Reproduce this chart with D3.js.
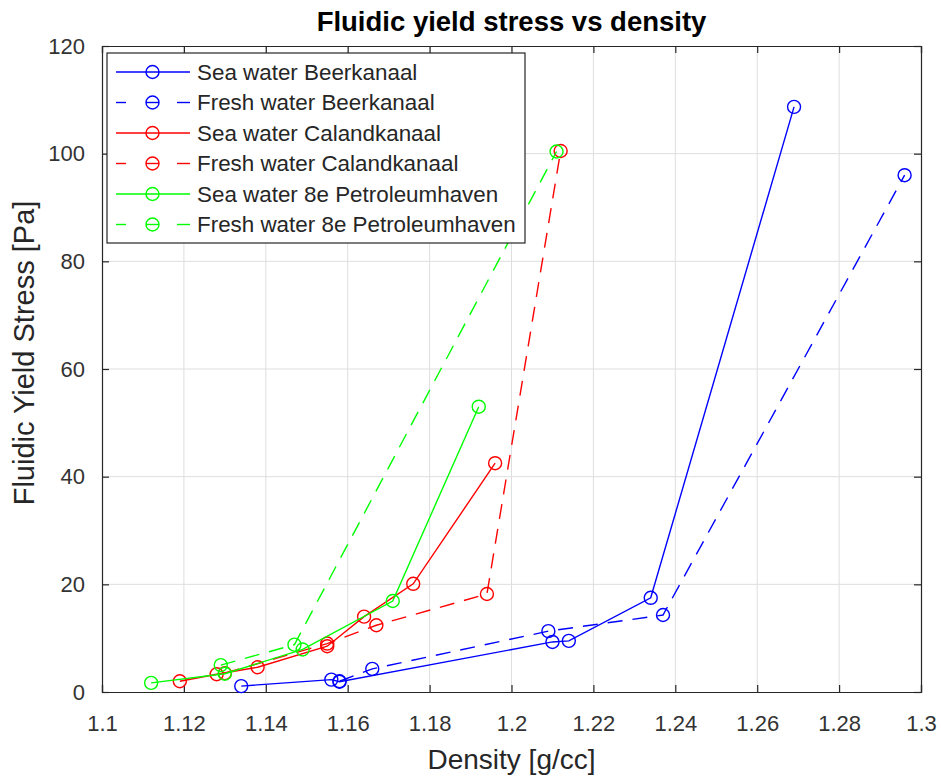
<!doctype html>
<html lang="en">
<head>
  <meta charset="UTF-8">
  <title>Fluidic yield stress vs density</title>
  <script src="https://cdnjs.cloudflare.com/ajax/libs/d3/7.8.5/d3.min.js"></script>
  <style>
  body { margin: 0; background: #fff; }
  svg { font-family: "Liberation Sans", Arial, sans-serif; }
  </style>
</head>
<body>
<script>

// density [g/cc] and fluidic yield stress [Pa]
var seaBeerX   = [1.134, 1.156, 1.158, 1.210, 1.214, 1.234, 1.269];
var seaBeerY   = [1.1, 2.3, 1.9, 9.3, 9.5, 17.5, 108.7];
var freshBeerX = [1.158, 1.166, 1.209, 1.237, 1.296];
var freshBeerY = [2.0, 4.3, 11.3, 14.3, 96.0];
var seaCalX    = [1.119, 1.128, 1.138, 1.155, 1.164, 1.176, 1.196];
var seaCalY    = [2.0, 3.3, 4.6, 8.5, 14.0, 20.1, 42.5];
var freshCalX  = [1.130, 1.155, 1.167, 1.194, 1.212];
var freshCalY  = [3.5, 9.0, 12.4, 18.2, 100.5];
var seaPetX    = [1.112, 1.130, 1.149, 1.171, 1.192];
var seaPetY    = [1.7, 3.4, 7.9, 16.9, 53.0];
var freshPetX  = [1.129, 1.147, 1.211];
var freshPetY  = [5.0, 8.8, 100.4];

var seriesNames = ["Sea water Beerkanaal", "Fresh water Beerkanaal",
                   "Sea water Calandkanaal", "Fresh water Calandkanaal",
                   "Sea water 8e Petroleumhaven", "Fresh water 8e Petroleumhaven"];
var xTicks = [1.1, 1.12, 1.14, 1.16, 1.18, 1.2, 1.22, 1.24, 1.26, 1.28, 1.3];
var yTicks = [0, 20, 40, 60, 80, 100, 120];

(function() {

var series = [
  {name: seriesNames[0], xs: seaBeerX,   ys: seaBeerY,   color: "#0000ff", dash: null},
  {name: seriesNames[1], xs: freshBeerX, ys: freshBeerY, color: "#0000ff", dash: "15,10"},
  {name: seriesNames[2], xs: seaCalX,    ys: seaCalY,    color: "#ff0000", dash: null},
  {name: seriesNames[3], xs: freshCalX,  ys: freshCalY,  color: "#ff0000", dash: "15,10"},
  {name: seriesNames[4], xs: seaPetX,    ys: seaPetY,    color: "#00ff00", dash: null},
  {name: seriesNames[5], xs: freshPetX,  ys: freshPetY,  color: "#00ff00", dash: "15,10"}
];

var w = 941, h = 777;
var pLeft = 102, pRight = 921, pTop = 46, pBottom = 692;
var ink = "#262626";

var x = d3.scaleLinear().domain([1.1, 1.3]).range([pLeft, pRight]);
var y = d3.scaleLinear().domain([0, 120]).range([pBottom, pTop]);

var svg = d3.select("body").append("svg")
  .attr("width", w)
  .attr("height", h);

// grid
svg.append("g").selectAll("line")
  .data(xTicks.slice(1, -1))
  .enter().append("line")
  .attr("x1", function(d) { return x(d); })
  .attr("x2", function(d) { return x(d); })
  .attr("y1", pTop).attr("y2", pBottom)
  .attr("stroke", "#dedede").attr("stroke-width", 1);

svg.append("g").selectAll("line")
  .data(yTicks.slice(1, -1))
  .enter().append("line")
  .attr("y1", function(d) { return y(d); })
  .attr("y2", function(d) { return y(d); })
  .attr("x1", pLeft).attr("x2", pRight)
  .attr("stroke", "#dedede").attr("stroke-width", 1);

// axes, ticks pointing inward on all four sides
var bx = svg.append("g").attr("transform", "translate(0," + pBottom + ")")
  .call(d3.axisBottom(x).tickValues(xTicks).tickSize(-7).tickPadding(23)
    .tickFormat(function(d) { return String(+d.toFixed(2)); }));
var tx = svg.append("g").attr("transform", "translate(0," + pTop + ")")
  .call(d3.axisTop(x).tickValues(xTicks).tickSize(-7).tickFormat(""));
var ly = svg.append("g").attr("transform", "translate(" + pLeft + ",0)")
  .call(d3.axisLeft(y).tickValues(yTicks).tickSize(-7).tickPadding(17));
var ry = svg.append("g").attr("transform", "translate(" + pRight + ",0)")
  .call(d3.axisRight(y).tickValues(yTicks).tickSize(-7).tickFormat(""));

[bx, tx, ly, ry].forEach(function(g) {
  g.select(".domain").attr("stroke", ink).attr("stroke-width", 1.2);
  g.selectAll(".tick line").attr("stroke", ink).attr("stroke-width", 1.2);
  g.selectAll(".tick text").attr("fill", "#333")
    .attr("font-size", "22px").attr("font-family", "Liberation Sans, Arial, sans-serif");
});

// data
var line = d3.line()
  .x(function(d) { return x(d[0]); })
  .y(function(d) { return y(d[1]); });

series.forEach(function(s) {
  var pts = s.xs.map(function(v, i) { return [v, s.ys[i]]; });
  var g = svg.append("g");
  g.append("path")
    .attr("d", line(pts))
    .attr("fill", "none")
    .attr("stroke", s.color)
    .attr("stroke-width", 1.4)
    .attr("stroke-dasharray", s.dash);
  g.selectAll("circle")
    .data(pts)
    .enter().append("circle")
    .attr("cx", function(d) { return x(d[0]); })
    .attr("cy", function(d) { return y(d[1]); })
    .attr("r", 6.5)
    .attr("fill", "none")
    .attr("stroke", s.color)
    .attr("stroke-width", 1.4);
});

// legend
var lg = svg.append("g").attr("transform", "translate(107,53)");
lg.append("rect")
  .attr("width", 418).attr("height", 190)
  .attr("fill", "#fff").attr("stroke", ink).attr("stroke-width", 1.2);

var rows = lg.selectAll("g.row")
  .data(series)
  .enter().append("g")
  .attr("class", "row")
  .attr("transform", function(d, i) { return "translate(0," + (19 + i * 30.5) + ")"; });

// solid samples run straight through, dashed ones get three short pieces
rows.filter(function(d) { return !d.dash; }).append("line")
  .attr("x1", 9).attr("x2", 83)
  .attr("stroke", function(d) { return d.color; })
  .attr("stroke-width", 1.4);
[[9, 19], [39, 52], [70, 83]].forEach(function(seg) {
  rows.filter(function(d) { return d.dash; }).append("line")
    .attr("x1", seg[0]).attr("x2", seg[1])
    .attr("stroke", function(d) { return d.color; })
    .attr("stroke-width", 1.4);
});
rows.append("circle")
  .attr("cx", 45.5).attr("r", 6.5)
  .attr("fill", "none")
  .attr("stroke", function(d) { return d.color; })
  .attr("stroke-width", 1.4);
rows.append("text")
  .attr("x", 90).attr("dy", "0.35em")
  .attr("font-size", "22.4px")
  .attr("fill", ink)
  .text(function(d) { return d.name; });

// titles
svg.append("text")
  .attr("x", (pLeft + pRight) / 2).attr("y", 31)
  .attr("text-anchor", "middle")
  .attr("font-size", "27.5px").attr("font-weight", "bold")
  .attr("fill", "#000")
  .text("Fluidic yield stress vs density");

svg.append("text")
  .attr("x", (pLeft + pRight) / 2).attr("y", 769)
  .attr("text-anchor", "middle")
  .attr("font-size", "28px")
  .attr("fill", ink)
  .text("Density [g/cc]");

svg.append("text")
  .attr("transform", "translate(34,353) rotate(-90)")
  .attr("text-anchor", "middle")
  .attr("font-size", "29px")
  .attr("fill", ink)
  .text("Fluidic Yield Stress [Pa]");

})();

</script>
</body>
</html>
